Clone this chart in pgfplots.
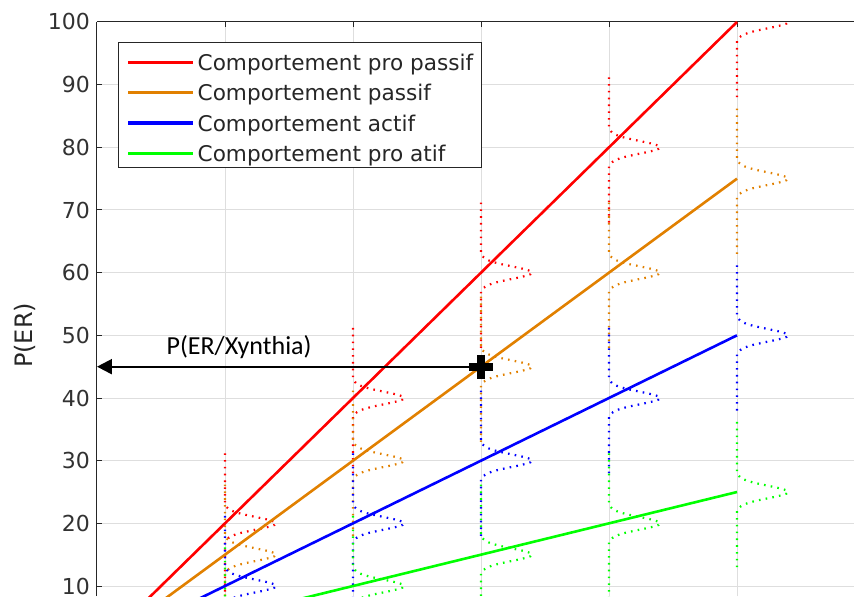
\documentclass[border=0pt]{standalone}
\usepackage{pgfplots}
\pgfplotsset{compat=1.18}
\usepackage{pgfplotstable}
\usepackage{fontspec}
\setmainfont{DejaVu Sans}
\newfontfamily\calibri{Carlito}
\usetikzlibrary{arrows.meta}
\definecolor{axisgray}{RGB}{38,38,38}
\definecolor{ticktext}{RGB}{50,50,50}
\definecolor{gridgray}{RGB}{222,222,222}
\definecolor{morange}{RGB}{225,128,0}
\definecolor{mred}{RGB}{255,0,0}
\definecolor{mblue}{RGB}{0,0,255}
\definecolor{mgreen}{RGB}{0,255,0}

% shape of the dotted distribution drawn beside each point (offset in y, offset in x)
\pgfplotstableread{
dy dx
-12 0
-3 0
-2.75 0.009
-2.5 0.018
-2.25 0.032
-2 0.054
-1.75 0.086
-1.5 0.130
-1.25 0.183
-1 0.242
-0.75 0.301
-0.5 0.352
-0.25 0.387
0 0.399
0.25 0.387
0.5 0.352
0.75 0.301
1 0.242
1.25 0.183
1.5 0.130
1.75 0.086
2 0.054
2.25 0.032
2.5 0.018
2.75 0.009
3 0
12 0
}\bump

\begin{document}
\begin{tikzpicture}
\begin{axis}[
  scale only axis, width=378.5pt, height=287pt,
  xmin=0, xmax=5.914, ymin=8.404, ymax=100,
  axis x line*=top, axis y line*=left,
  xtick={1,2,3,4,5}, xticklabels={},
  ytick={10,20,...,100},
  tick align=inside, major tick length=2.5pt,
  grid=major,
  grid style={color=gridgray, line width=0.5pt},
  axis line style={color=axisgray, line width=0.5pt},
  tick style={color=axisgray, line width=0.5pt},
  /pgf/number format/assume math mode=true,
  yticklabel style={font=\fontsize{11}{13}\selectfont, text=ticktext},
  dist/.style={line width=1.1pt, dash pattern=on 0.8pt off 2.6pt, forget plot},
  main/.style={line width=1.3pt},
  legend image code/.code={\draw[#1, line width=1.6pt] (0pt,-1.5pt) -- (32.5pt,-1.5pt);},
  legend style={at={(0,1)}, anchor=north west, xshift=10.5pt, yshift=-10pt,
    draw=axisgray, line width=0.5pt, fill=white,
    font=\fontsize{10.8}{13}\selectfont, text=axisgray,
    inner xsep=4pt, inner ysep=1pt, row sep=0.15pt,
    nodes={inner sep=0pt, text height=13pt, text depth=2pt},
    /tikz/every odd column/.append style={column sep=1.5pt}},
  legend cell align=left,
]
% dotted distributions
\addplot[dist,mred] table[x expr=\thisrow{dx}+1, y expr=\thisrow{dy}+20]{\bump};
\addplot[dist,mred] table[x expr=\thisrow{dx}+2, y expr=\thisrow{dy}+40]{\bump};
\addplot[dist,mred] table[x expr=\thisrow{dx}+3, y expr=\thisrow{dy}+60]{\bump};
\addplot[dist,mred] table[x expr=\thisrow{dx}+4, y expr=\thisrow{dy}+80]{\bump};
\addplot[dist,mred] table[x expr=\thisrow{dx}+5, y expr=\thisrow{dy}+100]{\bump};
\addplot[dist,morange] table[x expr=\thisrow{dx}+1, y expr=\thisrow{dy}+15]{\bump};
\addplot[dist,morange] table[x expr=\thisrow{dx}+2, y expr=\thisrow{dy}+30]{\bump};
\addplot[dist,morange] table[x expr=\thisrow{dx}+3, y expr=\thisrow{dy}+45]{\bump};
\addplot[dist,morange] table[x expr=\thisrow{dx}+4, y expr=\thisrow{dy}+60]{\bump};
\addplot[dist,morange] table[x expr=\thisrow{dx}+5, y expr=\thisrow{dy}+75]{\bump};
\addplot[dist,mblue] table[x expr=\thisrow{dx}+1, y expr=\thisrow{dy}+10]{\bump};
\addplot[dist,mblue] table[x expr=\thisrow{dx}+2, y expr=\thisrow{dy}+20]{\bump};
\addplot[dist,mblue] table[x expr=\thisrow{dx}+3, y expr=\thisrow{dy}+30]{\bump};
\addplot[dist,mblue] table[x expr=\thisrow{dx}+4, y expr=\thisrow{dy}+40]{\bump};
\addplot[dist,mblue] table[x expr=\thisrow{dx}+5, y expr=\thisrow{dy}+50]{\bump};
\addplot[dist,mgreen] table[x expr=\thisrow{dx}+1, y expr=\thisrow{dy}+5]{\bump};
\addplot[dist,mgreen] table[x expr=\thisrow{dx}+2, y expr=\thisrow{dy}+10]{\bump};
\addplot[dist,mgreen] table[x expr=\thisrow{dx}+3, y expr=\thisrow{dy}+15]{\bump};
\addplot[dist,mgreen] table[x expr=\thisrow{dx}+4, y expr=\thisrow{dy}+20]{\bump};
\addplot[dist,mgreen] table[x expr=\thisrow{dx}+5, y expr=\thisrow{dy}+25]{\bump};
% main lines
\addplot[main,mred] coordinates {(0,0) (5,100)};
\addlegendentry{Comportement pro passif}
\addplot[main,morange] coordinates {(0,0) (5,75)};
\addlegendentry{Comportement passif}
\addplot[main,mblue] coordinates {(0,0) (5,50)};
\addlegendentry{Comportement actif}
\addplot[main,mgreen] coordinates {(0,0) (5,25)};
\addlegendentry{Comportement pro atif}
% annotation
\addplot[forget plot, black, line width=1.15pt, -{Triangle[length=7.5pt,width=7.5pt]}] coordinates {(3,45) (0,45)};
\addplot[forget plot, only marks, mark=+, mark size=6pt, mark options={line width=4pt, black}] coordinates {(3,45)};
\coordinate (ylab) at (axis cs:0,50);
\coordinate (lab) at (axis cs:1.11,45);
\end{axis}
\node[rotate=90, anchor=center, font=\fontsize{12}{14}\selectfont, text=axisgray] at ([xshift=-36pt]ylab) {P(ER)};
\node[anchor=base, font=\calibri\fontsize{13}{15}\selectfont] at ([yshift=6pt]lab) {P(ER/Xynthia)};
\pgfresetboundingbox
\path[use as bounding box] ([xshift=-48.5pt]current axis.south west) rectangle ([yshift=11pt]current axis.north east);
\end{tikzpicture}
\end{document}
